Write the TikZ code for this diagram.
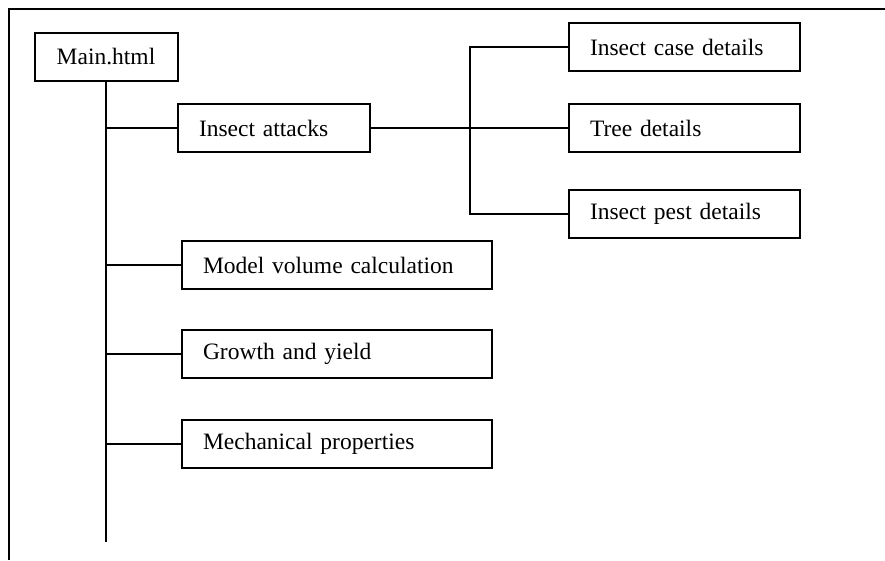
\documentclass[tikz,border=0pt]{standalone}
\usepackage{fontspec}
\setmainfont{Liberation Serif}
\usetikzlibrary{positioning}

\begin{document}
\begin{tikzpicture}[x=1pt, y=-1pt, line width=2pt,
    font=\fontsize{23.5}{27}\selectfont, node distance=39pt,
    box/.style={draw, fill=white, inner xsep=21pt, minimum height=48pt},
    item/.style={box, align=left, anchor=west}]
    \useasboundingbox (0,0) rectangle (885,560);
    \draw (885,9) -| (9,560);

    \node[box, minimum width=143pt] (main) at (106,57) {Main.html};
    \node[item, text width=150pt] (attacks) at (177,128) {Insect attacks};
    \node[item, text width=189pt] (tree) at (568,128) {Tree details};
    \node[item, text width=189pt, above=31pt of tree] (case) {Insect case details};
    \node[item, text width=189pt, below=36pt of tree] (pest) {Insect pest details};
    \node[item, text width=268pt] (model) at (181,265) {Model volume calculation};
    \node[item, text width=268pt, below=of model] (growth) {Growth and yield};
    \node[item, text width=268pt, below=40pt of growth] (mech) {Mechanical properties};
    \coordinate (trunkend) at (106,542);
    \coordinate (hub) at (470,128);

    \draw (main) -- (trunkend);
    \foreach \n in {attacks, model, growth, mech}
        \draw (main.south |- \n.west) -- (\n.west);
    \draw (attacks) -- (tree);
    \draw (case.west) -| (hub) |- (pest.west);
\end{tikzpicture}
\end{document}
